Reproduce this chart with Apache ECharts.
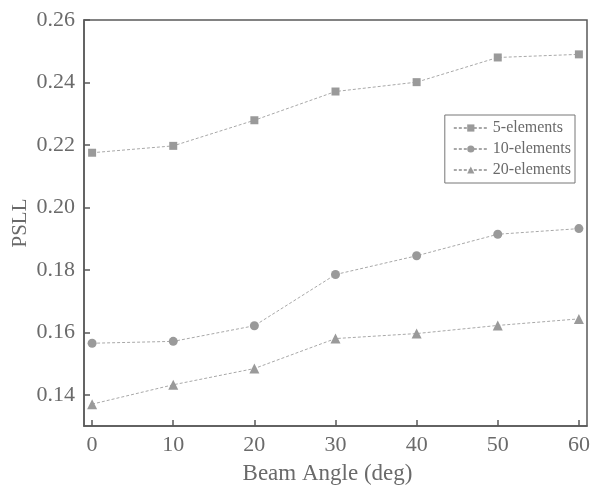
<!DOCTYPE html>
<html>
<head>
<meta charset="utf-8">
<script src="https://cdn.jsdelivr.net/npm/echarts@6/dist/echarts.min.js"></script>
<style>
  html, body, #main {
    margin: 0;
    padding: 0;
    width: 591px;
    height: 488px;
    overflow: hidden;
    background: #fff;
  }
</style>
</head>
<body>
<div id="main"></div>
<script>
// beam angles (deg)
const angles = [0, 10, 20, 30, 40, 50, 60];
// PSLL for each array size
const psll5 = [0.2175, 0.2197, 0.2279, 0.2371, 0.2401, 0.2480, 0.2490];
const psll10 = [0.1565, 0.1571, 0.1621, 0.1785, 0.1845, 0.1914, 0.1932];
const psll20 = [0.1370, 0.1432, 0.1484, 0.1580, 0.1596, 0.1622, 0.1643];
const xTicks = [0, 10, 20, 30, 40, 50, 60];
const yTicks = [0.14, 0.16, 0.18, 0.20, 0.22, 0.24, 0.26];

const fontFam = '"Liberation Serif", "DejaVu Serif", serif';
const axisColor = "#5a5a5a";
const textColor = "#6a6a6a";

function pairs(ys) {
  return angles.map((a, i) => [a, ys[i]]);
}

function makeSeries(name, ys, symbol, size) {
  return {
    name: name,
    type: "line",
    data: pairs(ys),
    symbol: symbol,
    symbolSize: size,
    itemStyle: { color: "#9a9a9a" },
    lineStyle: { color: "#a8a8a8", width: 1, type: [3, 2] },
    emphasis: { disabled: true },
  };
}

const myChart = echarts.init(document.getElementById("main"));
const option = {
  animation: false,
  textStyle: { fontFamily: fontFam },
  grid: {
    left: 84,
    right: 4,
    top: 20,
    bottom: 62,
    outerBoundsMode: "none", // 不让标签挤压绘图区
    show: true,
    borderColor: axisColor,
    borderWidth: 1.5,
  },
  legend: {
    orient: "vertical",
    right: 16,
    top: 115,
    padding: [5, 4, 5, 8],
    itemGap: 5,
    itemWidth: 34,
    itemHeight: 9,
    borderColor: "#777",
    borderWidth: 1,
    textStyle: { fontFamily: fontFam, fontSize: 16, color: textColor },
    data: ["5-elements", "10-elements", "20-elements"],
  },
  xAxis: {
    type: "value",
    min: -1,
    max: 61,
    name: "Beam Angle (deg)",
    nameLocation: "middle",
    nameGap: 36,
    nameTextStyle: { fontFamily: fontFam, fontSize: 23, color: textColor, padding: [0, 16, 0, 0] },
    axisLine: { onZero: false, lineStyle: { color: axisColor, width: 1.5 } },
    axisTick: { inside: true, length: 6, customValues: xTicks, lineStyle: { color: axisColor, width: 1.5 } },
    axisLabel: { customValues: xTicks, margin: 8, fontFamily: fontFam, fontSize: 22, color: textColor },
    splitLine: { show: false },
  },
  yAxis: {
    type: "value",
    min: 0.13,
    max: 0.26,
    name: "PSLL",
    nameLocation: "middle",
    nameGap: 53,
    nameMoveOverlap: false,
    nameTextStyle: { fontFamily: fontFam, fontSize: 21, color: textColor },
    axisLine: { onZero: false, lineStyle: { color: axisColor, width: 1.5 } },
    axisTick: { inside: true, length: 6, customValues: yTicks, lineStyle: { color: axisColor, width: 1.5 } },
    axisLabel: {
      customValues: yTicks,
      margin: 9,
      fontFamily: fontFam,
      fontSize: 22,
      color: textColor,
      formatter: (v) => v.toFixed(2),
    },
    splitLine: { show: false },
  },
  series: [
    makeSeries("5-elements", psll5, "rect", 8),
    makeSeries("10-elements", psll10, "circle", 9),
    makeSeries("20-elements", psll20, "triangle", 10),
  ],
};
myChart.setOption(option);
</script>
</body>
</html>
